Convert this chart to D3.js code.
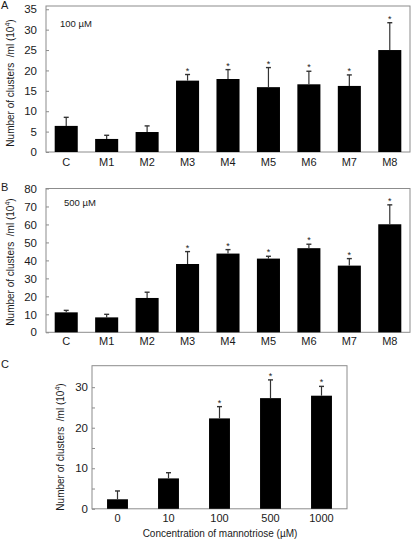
<!DOCTYPE html>
<html>
<head>
<meta charset="utf-8">
<script src="https://cdn.jsdelivr.net/npm/d3@7"></script>
<style>
  html, body { margin: 0; padding: 0; background: #fff; }
  svg { display: block; font-family: "Liberation Sans", Arial, sans-serif; }
  text { fill: #1a1a1a; white-space: pre; }
</style>
</head>
<body>
<svg id="chart" width="416" height="540"></svg>
<script>
// ---------- data ----------
const categoriesAB = ["C", "M1", "M2", "M3", "M4", "M5", "M6", "M7", "M8"];
const valuesA = [6.4, 3.2, 4.9, 17.5, 17.9, 15.9, 16.6, 16.2, 25.0];
const errorsA = [2.1, 0.9, 1.5, 1.5, 2.3, 4.8, 3.2, 2.7, 6.7];
const signifA = [false, false, false, true, true, true, true, true, true];
const ticksA = [0, 5, 10, 15, 20, 25, 30, 35];

const valuesB = [11.1, 8.3, 19.1, 38.0, 43.8, 41.0, 46.8, 37.1, 60.1];
const errorsB = [1.1, 1.7, 3.2, 6.9, 2.2, 1.3, 2.2, 3.9, 10.8];
const signifB = [false, false, false, true, true, true, true, true, true];
const ticksB = [0, 10, 20, 30, 40, 50, 60, 70, 80];

const categoriesC = ["0", "10", "100", "500", "1000"];
const valuesC = [2.35, 7.5, 22.3, 27.3, 27.9];
const errorsC = [2.05, 1.4, 2.9, 4.5, 2.3];
const signifC = [false, false, true, true, true];
const ticksC = [0, 5, 10, 15, 20, 25, 30];
const tickLabelsC = [0, 10, 20, 30];

// ---------- drawing ----------
const svg = d3.select("#chart");

function panel(opts) {
  const g = svg.append("g");
  const x = d3.scaleBand().domain(opts.categories).range([opts.x0, opts.x1])
    .paddingInner(opts.pin).paddingOuter(opts.pin / 2);
  const y = d3.scaleLinear().domain([0, opts.yMax]).range([opts.yBottom, opts.yTop]);

  // frame
  g.append("rect")
    .attr("x", opts.x0).attr("y", opts.yTop)
    .attr("width", opts.x1 - opts.x0).attr("height", opts.yBottom - opts.yTop)
    .attr("fill", "none").attr("stroke", "#8c8c8c").attr("stroke-width", 1);

  // y axis
  const ax = g.append("g").attr("transform", `translate(${opts.x0},0)`)
    .call(d3.axisLeft(y).tickValues(opts.ticks).tickSize(-3).tickPadding(opts.tickPad)
      .tickFormat(d => opts.labelTicks.includes(d) ? d : ""));
  ax.select(".domain").remove();
  ax.selectAll(".tick line").attr("stroke", "#8c8c8c");
  ax.selectAll(".tick text").attr("font-size", 11.5).attr("fill", "#1a1a1a")
    .attr("font-family", "Liberation Sans, Arial, sans-serif");

  // x labels
  g.selectAll(".xl").data(opts.categories).enter().append("text")
    .attr("x", d => x(d) + x.bandwidth() / 2)
    .attr("y", opts.yBottom + opts.xLabOff)
    .attr("text-anchor", "middle").attr("dominant-baseline", "middle")
    .attr("font-size", 11).text(d => d);

  // bars
  g.selectAll(".bar").data(opts.values).enter().append("rect")
    .attr("x", (d, i) => x(opts.categories[i]))
    .attr("y", d => y(d))
    .attr("width", x.bandwidth())
    .attr("height", d => opts.yBottom - y(d))
    .attr("fill", "#000");

  // error bars
  opts.values.forEach((v, i) => {
    const cx = x(opts.categories[i]) + x.bandwidth() / 2;
    const top = y(v + opts.errors[i]);
    g.append("line").attr("x1", cx).attr("x2", cx).attr("y1", y(v)).attr("y2", top)
      .attr("stroke", "#333").attr("stroke-width", 1.2);
    g.append("line").attr("x1", cx - 2.5).attr("x2", cx + 2.5).attr("y1", top).attr("y2", top)
      .attr("stroke", "#333").attr("stroke-width", 1.4);
    if (opts.signif[i]) {
      g.append("text").attr("x", cx).attr("y", top - 1)
        .attr("text-anchor", "middle").attr("font-size", 9).text("*");
    }
  });

  // y title
  const t = g.append("text")
    .attr("transform", `translate(${opts.titleX},${opts.titleY}) rotate(-90)`)
    .attr("text-anchor", "middle").attr("font-size", 10);
  t.append("tspan").text("Number of clusters  /ml (10");
  t.append("tspan").attr("dy", -4).attr("font-size", 7).text("4");
  t.append("tspan").attr("dy", 4).text(")");

  // panel letter
  svg.append("text").attr("x", 1).attr("y", opts.letterY)
    .attr("font-size", 11).text(opts.letter);

  if (opts.note) {
    g.append("text").attr("x", opts.noteX).attr("y", opts.noteY)
      .attr("font-size", 9.5).attr("dominant-baseline", "middle").text(opts.note);
  }
  return { g, x, y };
}

panel({
  categories: categoriesAB, values: valuesA, errors: errorsA, signif: signifA,
  ticks: ticksA, labelTicks: ticksA, yMax: 35.8,
  x0: 46, x1: 410, pin: 0.43, yTop: 6, yBottom: 152, tickPad: 9, xLabOff: 11,
  titleX: 14, titleY: 83, letter: "A", letterY: 9,
  note: "100 µM", noteX: 60, noteY: 24
});

const pB = panel({
  categories: categoriesAB, values: valuesB, errors: errorsB, signif: signifB,
  ticks: ticksB, labelTicks: ticksB, yMax: 80,
  x0: 46, x1: 410, pin: 0.43, yTop: 188.5, yBottom: 332.3, tickPad: 9, xLabOff: 10,
  titleX: 14, titleY: 262, letter: "B", letterY: 190.5,
  note: "500 µM", noteX: 64, noteY: 203
});

const pC = panel({
  categories: categoriesC, values: valuesC, errors: errorsC, signif: signifC,
  ticks: ticksC, labelTicks: tickLabelsC, yMax: 35.3,
  x0: 92, x1: 347, pin: 0.59, yTop: 365.7, yBottom: 508.8, tickPad: 4, xLabOff: 10.5,
  titleX: 64, titleY: 447, letter: "C", letterY: 368
});

svg.append("text").attr("x", 220).attr("y", 534)
  .attr("text-anchor", "middle").attr("dominant-baseline", "middle")
  .attr("font-size", 10).text("Concentration of mannotriose (µM)");
</script>
</body>
</html>
